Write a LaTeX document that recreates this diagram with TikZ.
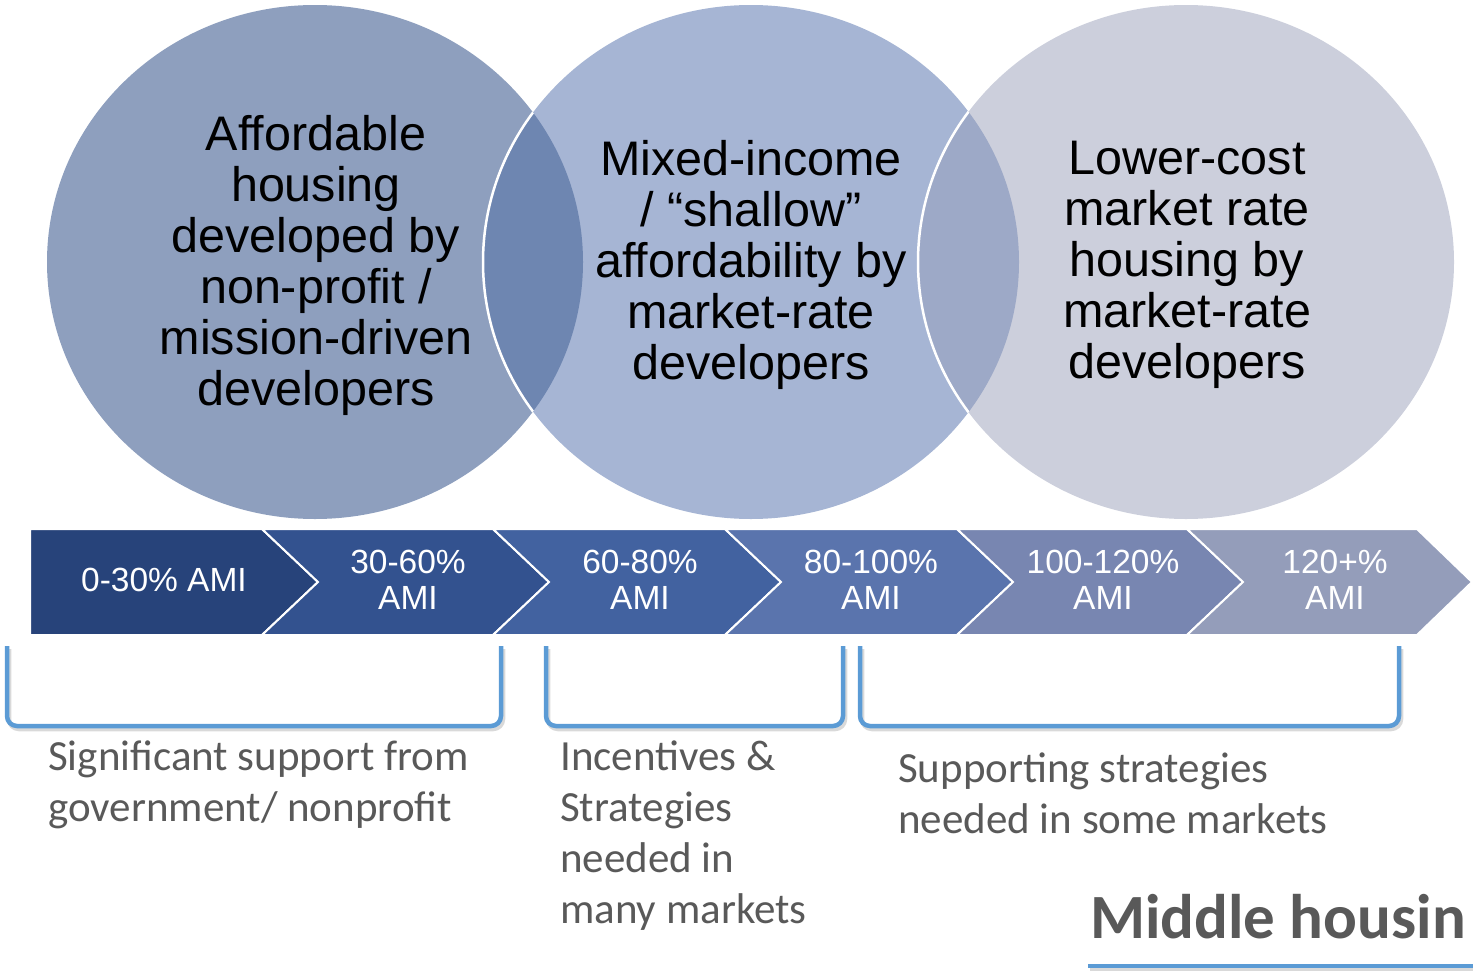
\documentclass[tikz,border=0pt]{standalone}
\usepackage{fontspec}
\setmainfont{Liberation Sans}
\newfontfamily\notefont{Carlito}

\definecolor{circA}{HTML}{8E9FBE}
\definecolor{circB}{HTML}{A6B5D4}
\definecolor{circC}{HTML}{CCCFDC}
\definecolor{lensAB}{HTML}{6E86B1}
\definecolor{lensBC}{HTML}{9DA9C7}
\definecolor{segA}{HTML}{27437A}
\definecolor{segB}{HTML}{33528F}
\definecolor{segC}{HTML}{4262A0}
\definecolor{segD}{HTML}{5A74AD}
\definecolor{segE}{HTML}{7886B1}
\definecolor{segF}{HTML}{949DBA}
\definecolor{braceblue}{HTML}{5B9BD5}
\definecolor{notegray}{HTML}{595959}

\tikzset{
  circtext/.style={font=\fontsize{48.5}{51}\selectfont, align=center, inner sep=0pt, text=black},
  chevtext/.style={font=\fontsize{33.5}{36}\selectfont, align=center, inner sep=0pt, text=white},
  notetext/.style={font=\notefont\fontsize{43}{51}\selectfont, align=left, inner sep=0pt, text=notegray, anchor=north west},
  chevron/.style={draw=white, line width=2pt, line join=miter},
  bracket/.style={draw=braceblue, line width=4.5pt, rounded corners=10pt},
  bracketshade/.style={draw=black, opacity=0.15, line width=4.5pt, rounded corners=10pt},
}

\begin{document}
\begin{tikzpicture}[x=1pt, y=-1pt]
\useasboundingbox (0,0) rectangle (1473,980);

% three overlapping circles
\def\circA{(315,262) ellipse [x radius=268pt, y radius=257pt]}
\def\circB{(751,262) ellipse [x radius=268pt, y radius=257pt]}
\def\circC{(1186,262) ellipse [x radius=268pt, y radius=257pt]}
\fill[circA] \circA;
\fill[circB] \circB;
\fill[circC] \circC;
\begin{scope}
  \clip \circA;
  \fill[lensAB] \circB;
  \draw[white, line width=2.5pt] \circB;
\end{scope}
\begin{scope}
  \clip \circB;
  \fill[lensBC] \circC;
  \draw[white, line width=2.5pt] \circC;
\end{scope}

\node[circtext] (textA) at (316,265) {Affordable\\housing\\developed by\\non-profit /\\mission-driven\\developers};
\node[circtext] (textB) at (751,265) {Mixed-income\\/ “shallow”\\affordability by\\market-rate\\developers};
\node[circtext] (textC) at (1187,265) {Lower-cost\\market rate\\housing by\\market-rate\\developers};

% income band chevrons
\fill[segA, chevron] (30,529) -- (262,529) -- (318,582) -- (262,635) -- (30,635) -- cycle;
\fill[segB, chevron] (262,529) -- (493,529) -- (549,582) -- (493,635) -- (262,635) -- (318,582) -- cycle;
\fill[segC, chevron] (493,529) -- (725,529) -- (781,582) -- (725,635) -- (493,635) -- (549,582) -- cycle;
\fill[segD, chevron] (725,529) -- (957,529) -- (1013,582) -- (957,635) -- (725,635) -- (781,582) -- cycle;
\fill[segE, chevron] (957,529) -- (1187,529) -- (1243,582) -- (1187,635) -- (957,635) -- (1013,582) -- cycle;
\fill[segF, chevron] (1187,529) -- (1417,529) -- (1472,582) -- (1417,635) -- (1187,635) -- (1243,582) -- cycle;

\node[chevtext] (bandA) at (164,580) {0-30\% AMI};
\node[chevtext] (bandB) at (408,580) {30-60\%\\AMI};
\node[chevtext] (bandC) at (640,580) {60-80\%\\AMI};
\node[chevtext] (bandD) at (871,580) {80-100\%\\AMI};
\node[chevtext] (bandE) at (1103,580) {100-120\%\\AMI};
\node[chevtext] (bandF) at (1335,580) {120+\%\\AMI};

% brackets under the bands, with a soft drop shadow
\begin{scope}[shift={(2,3)}]
  \draw[bracketshade] (7,646) -- (7,726) -- (501,726) -- (501,646);
  \draw[bracketshade] (546,646) -- (546,726) -- (843,726) -- (843,646);
  \draw[bracketshade] (860,646) -- (860,726) -- (1399,726) -- (1399,646);
  \draw[draw=black, opacity=0.15, line width=4.5pt] (1088,966) -- (1473,966);
\end{scope}
\draw[bracket] (7,646) -- (7,726) -- (501,726) -- (501,646);
\draw[bracket] (546,646) -- (546,726) -- (843,726) -- (843,646);
\draw[bracket] (860,646) -- (860,726) -- (1399,726) -- (1399,646);

\node[notetext] (noteA) at (48,741) {Significant support from\\government/ nonprofit};
\node[notetext] (noteB) at (560,741) {Incentives \&\\Strategies\\needed in\\many markets};
\node[notetext] (noteC) at (898,753) {Supporting strategies\\needed in some markets};

% heading with underline
\node[font=\notefont\bfseries\fontsize{63}{68}\selectfont, text=notegray, inner sep=0pt, anchor=base west] (heading) at (1090,938) {Middle housin};
\draw[braceblue, line width=4.5pt] (1088,966) -- (1473,966);
\end{tikzpicture}
\end{document}
